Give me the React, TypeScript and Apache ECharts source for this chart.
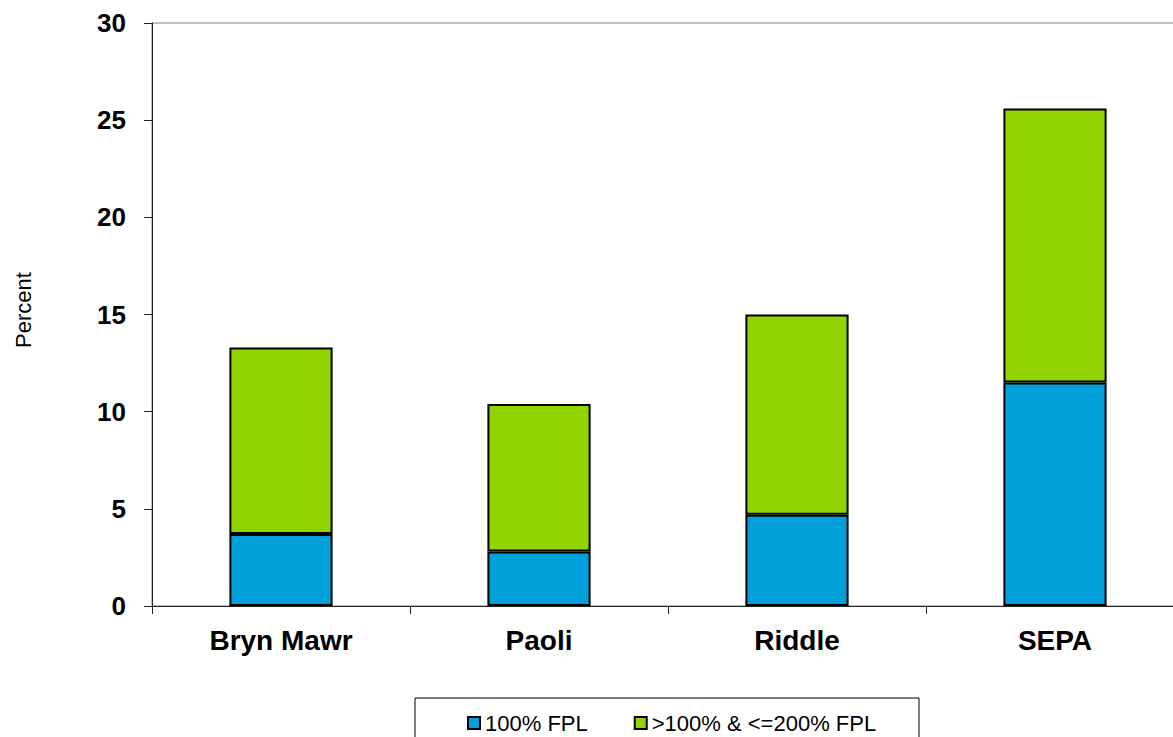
import React, { useEffect, useRef } from "react";
import * as echarts from "echarts";

const categories = ["Bryn Mawr", "Paoli", "Riddle", "SEPA"];
const below100 = [3.7, 2.8, 4.7, 11.5];
const between100and200 = [9.6, 7.6, 10.3, 14.1];
const seriesNames = ["100% FPL", ">100% & <=200% FPL"];
const yTicks = { min: 0, max: 30, interval: 5 };

export default function App() {
  const ref = useRef<HTMLDivElement>(null);
  useEffect(() => {
    const chart = echarts.init(ref.current!, null, { renderer: "svg" });
    const font = "Arial, 'Liberation Sans', sans-serif";
    chart.setOption({
      animation: false,
      textStyle: { fontFamily: font },
      grid: {
        left: 152,
        top: 23,
        right: 6,
        bottom: 131,
        show: true,
        borderColor: "#808080",
        borderWidth: 1,
      },
      xAxis: {
        type: "category",
        data: categories,
        axisLine: { lineStyle: { color: "#222", width: 1 } },
        axisTick: { show: true, length: 8, lineStyle: { color: "#222" } },
        axisLabel: {
          color: "#000",
          fontWeight: "bold",
          fontSize: 28,
          fontFamily: font,
          margin: 20,
        },
      },
      yAxis: {
        type: "value",
        min: yTicks.min,
        max: yTicks.max,
        interval: yTicks.interval,
        axisLine: { show: true, lineStyle: { color: "#222", width: 1 } },
        axisTick: { show: true, length: 8, lineStyle: { color: "#222" } },
        splitLine: { show: false },
        axisLabel: {
          color: "#000",
          fontWeight: "bold",
          fontSize: 26,
          fontFamily: font,
          margin: 26,
        },
      },
      legend: {
        left: 462,
        top: 707,
        itemWidth: 12,
        itemHeight: 12,
        itemGap: 46,
        icon: "rect",
        textStyle: { fontSize: 22, color: "#000", fontFamily: font },
        data: seriesNames,
      },
      graphic: [
        {
          type: "rect",
          shape: { x: 415, y: 698, width: 504, height: 60 },
          style: { fill: "none", stroke: "#000", lineWidth: 1 },
        },
        {
          type: "text",
          x: 23,
          y: 310,
          rotation: Math.PI / 2,
          style: {
            text: "Percent",
            fontSize: 22,
            fontFamily: font,
            fill: "#000",
            textAlign: "center",
            textVerticalAlign: "middle",
          },
        },
      ],
      series: [
        {
          name: seriesNames[0],
          type: "bar",
          stack: "total",
          barWidth: "40%",
          data: below100,
          itemStyle: { color: "#00A0DA", borderColor: "#000", borderWidth: 2 },
        },
        {
          name: seriesNames[1],
          type: "bar",
          stack: "total",
          barWidth: "40%",
          data: between100and200,
          itemStyle: { color: "#92D400", borderColor: "#000", borderWidth: 2 },
        },
      ],
    });
    return () => chart.dispose();
  }, []);
  return (
    <div
      style={{
        position: "fixed",
        left: 0,
        top: 0,
        width: 1173,
        height: 737,
        overflow: "hidden",
        background: "#fff",
      }}
    >
      <div ref={ref} style={{ width: 1190, height: 737 }} />
    </div>
  );
}
